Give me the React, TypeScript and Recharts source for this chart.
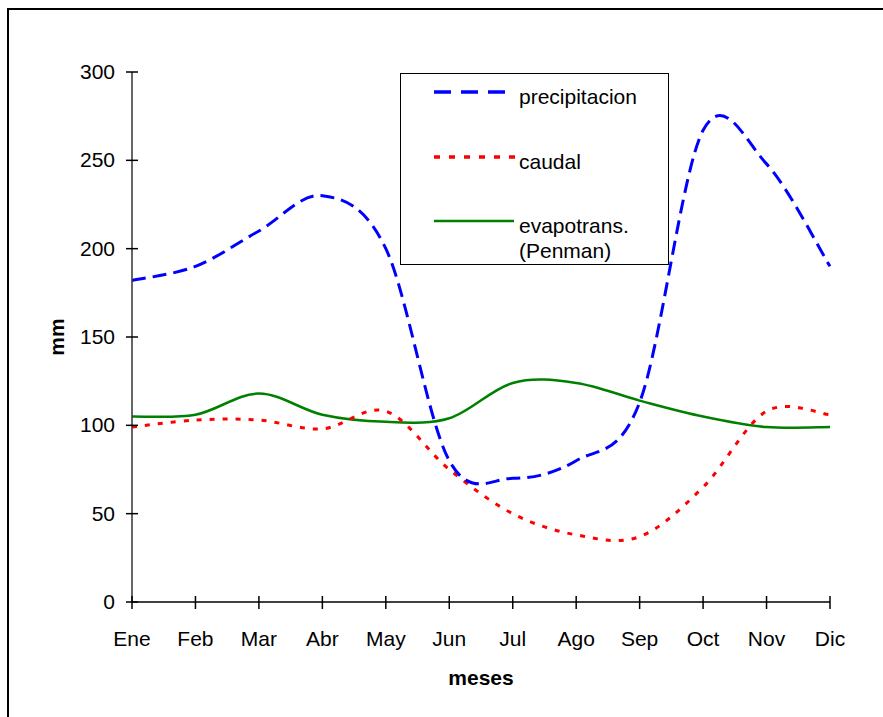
import React from "react";
import { LineChart, Line, XAxis, YAxis } from "recharts";

const months = ["Ene", "Feb", "Mar", "Abr", "May", "Jun", "Jul", "Ago", "Sep", "Oct", "Nov", "Dic"];
const precipitacion = [182, 190, 210, 230, 200, 80, 70, 80, 113, 267, 248, 190];
const caudal = [99, 103, 103, 98, 108, 75, 50, 38, 37, 65, 108, 106];
const evapotrans = [105, 106, 118, 106, 102, 104, 124, 124, 114, 105, 99, 99];
const yTicks = [0, 50, 100, 150, 200, 250, 300];

const data = months.map((m, i) => ({
  mes: m,
  precipitacion: precipitacion[i],
  caudal: caudal[i],
  evapotrans: evapotrans[i],
}));

const FONT = "'Liberation Sans', Arial, sans-serif";
const FS = 21;

// Excel-like smoothed line (Catmull-Rom through the points)
const smoothCurve = (context: any) => {
  let pts: number[][] = [];
  return {
    areaStart() {},
    areaEnd() {},
    lineStart() {
      pts = [];
    },
    lineEnd() {
      if (!pts.length) return;
      context.moveTo(pts[0][0], pts[0][1]);
      for (let i = 0; i < pts.length - 1; i++) {
        const p0 = pts[i - 1] || pts[i];
        const p1 = pts[i];
        const p2 = pts[i + 1];
        const p3 = pts[i + 2] || p2;
        context.bezierCurveTo(
          p1[0] + (p2[0] - p0[0]) / 6,
          p1[1] + (p2[1] - p0[1]) / 6,
          p2[0] - (p3[0] - p1[0]) / 6,
          p2[1] - (p3[1] - p1[1]) / 6,
          p2[0],
          p2[1]
        );
      }
    },
    point(x: number, y: number) {
      pts.push([+x, +y]);
    },
  };
};

const XTick = (props: any) => {
  const { x, y, payload } = props;
  return (
    <g>
      <line x1={x} x2={x} y1={y - 6} y2={y + 7} stroke="#000" strokeWidth={1.5} />
      <text x={x} y={y + 44} textAnchor="middle" fontSize={FS} fontFamily={FONT} fill="#000">
        {payload.value}
      </text>
    </g>
  );
};

const YTick = (props: any) => {
  const { x, y, payload } = props;
  return (
    <g>
      <line x1={x - 6} x2={x + 6} y1={y} y2={y} stroke="#000" strokeWidth={1.5} />
      <text x={x - 17} y={y + 7} textAnchor="end" fontSize={FS} fontFamily={FONT} fill="#000">
        {payload.value}
      </text>
    </g>
  );
};

const legendItems = [
  { label: ["precipitacion"], color: "#0000ff", dash: "17 10", width: 3.5, y: 18, x2: 107 },
  { label: ["caudal"], color: "#ff0000", dash: "6 9", width: 3.5, y: 83, x2: 115 },
  { label: ["evapotrans.", "(Penman)"], color: "#008000", dash: undefined, width: 2.5, y: 147, x2: 113 },
];

const ChartLegend = () => (
  <div
    style={{
      position: "absolute",
      left: 400,
      top: 73,
      width: 267,
      height: 190,
      border: "1px solid #000",
      background: "#fff",
    }}
  >
    <svg width={267} height={190}>
      {legendItems.map((it) => (
        <g key={it.label[0]}>
          <line x1={33} x2={it.x2} y1={it.y} y2={it.y} stroke={it.color} strokeWidth={it.width} strokeDasharray={it.dash} />
          {it.label.map((t, j) => (
            <text key={t} x={118} y={it.y + 12 + j * 25} fontSize={FS} fontFamily={FONT} fill="#000">
              {t}
            </text>
          ))}
        </g>
      ))}
    </svg>
  </div>
);

export default function App() {
  return (
    <div style={{ position: "absolute", left: 0, top: 0, width: 883, height: 717, background: "#fff", overflow: "hidden" }}>
      <div
        style={{
          position: "absolute",
          left: 7,
          top: 8,
          width: 900,
          height: 740,
          border: "2px solid #000",
          boxSizing: "border-box",
        }}
      />
      <div style={{ position: "absolute", left: 0, top: 0 }}>
        <LineChart width={883} height={717} data={data} margin={{ top: 72, right: 53, bottom: 0, left: 72 }}>
          <XAxis
            dataKey="mes"
            height={115}
            tickLine={false}
            tickSize={0}
            tickMargin={0}
            interval={0}
            stroke="#000"
            strokeWidth={1.5}
            tick={<XTick />}
            label={{
              content: (p: any) => (
                <text
                  x={p.viewBox.x + p.viewBox.width / 2}
                  y={p.viewBox.y + 83}
                  textAnchor="middle"
                  fontSize={FS}
                  fontWeight="bold"
                  fontFamily={FONT}
                  fill="#000"
                >
                  meses
                </text>
              ),
            }}
          />
          <YAxis
            width={60}
            domain={[0, 300]}
            ticks={yTicks}
            tickLine={false}
            tickSize={0}
            tickMargin={0}
            stroke="#333"
            strokeWidth={1.5}
            tick={<YTick />}
            label={{
              content: (p: any) => {
                const cx = p.viewBox.x - 16;
                const cy = p.viewBox.y + p.viewBox.height / 2;
                return (
                  <text
                    x={cx}
                    y={cy}
                    transform={`rotate(-90 ${cx} ${cy})`}
                    textAnchor="middle"
                    dominantBaseline="central"
                    fontSize={FS}
                    fontWeight="bold"
                    fontFamily={FONT}
                    fill="#000"
                  >
                    mm
                  </text>
                );
              },
            }}
          />
          <Line
            dataKey="evapotrans"
            type={smoothCurve as any}
            stroke="#008000"
            strokeWidth={2.5}
            dot={false}
            activeDot={false}
            isAnimationActive={false}
          />
          <Line
            dataKey="caudal"
            type={smoothCurve as any}
            stroke="#ff0000"
            strokeWidth={3}
            strokeDasharray="5 8"
            dot={false}
            activeDot={false}
            isAnimationActive={false}
          />
          <Line
            dataKey="precipitacion"
            type={smoothCurve as any}
            stroke="#0000ff"
            strokeWidth={3}
            strokeDasharray="14 7"
            dot={false}
            activeDot={false}
            isAnimationActive={false}
          />
        </LineChart>
      </div>
      <ChartLegend />
    </div>
  );
}
